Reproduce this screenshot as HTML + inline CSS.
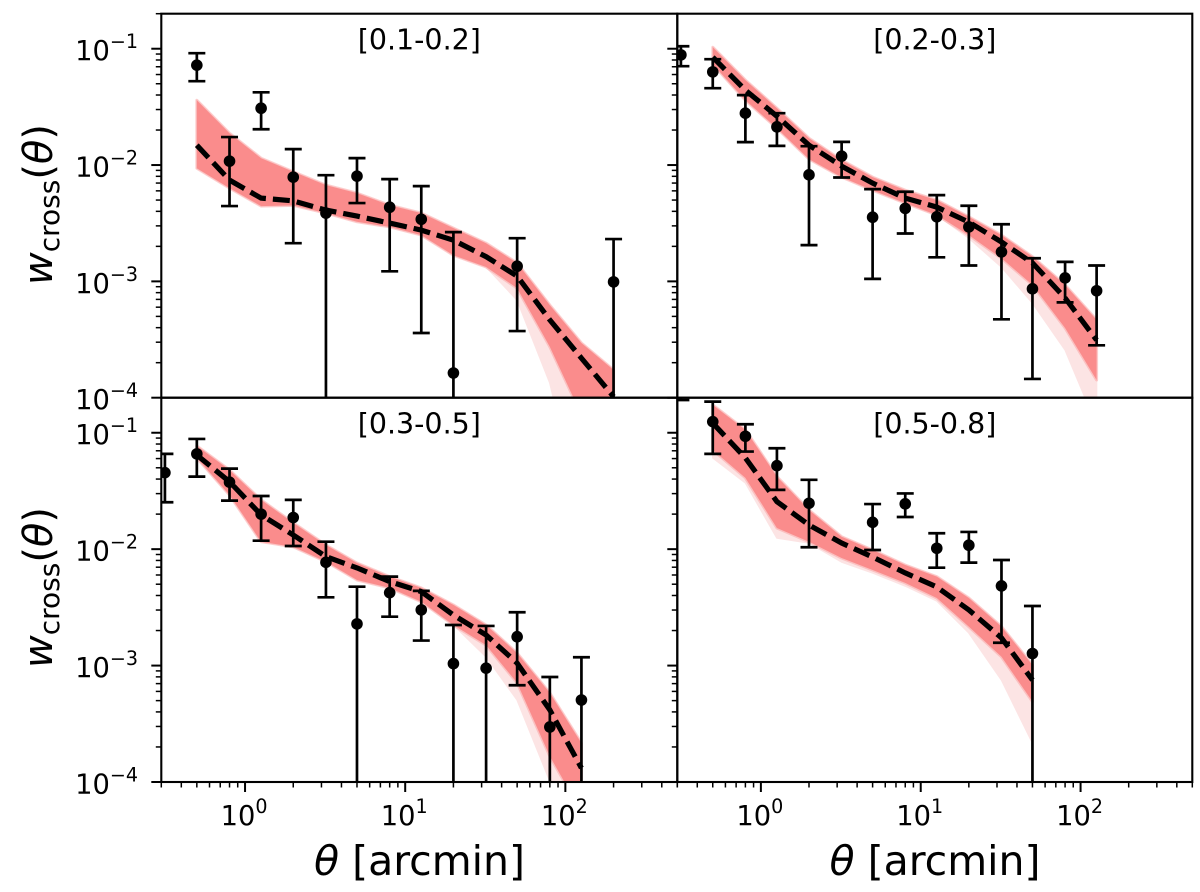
<!DOCTYPE html>
<html lang="en">
<head>
<meta charset="utf-8">
<title>Cross-correlation panels</title>
<style>
html,body{margin:0;padding:0;background:#fff;}
svg{display:block;}
text{font-family:"DejaVu Sans","Liberation Sans",sans-serif;fill:#000;}
</style>
</head>
<body>
<svg id="chart" xmlns="http://www.w3.org/2000/svg" width="1200" height="892" viewBox="0 0 1200 892">
  <rect x="0" y="0" width="1200" height="892" fill="#fff"/>
  <defs>
    <clipPath id="clip-0"><rect x="161.3" y="13.7" width="516" height="384"/></clipPath>
    <clipPath id="clip-1"><rect x="677.3" y="13.7" width="515" height="384"/></clipPath>
    <clipPath id="clip-2"><rect x="161.3" y="397.7" width="516" height="384.3"/></clipPath>
    <clipPath id="clip-3"><rect x="677.3" y="397.7" width="515" height="384.3"/></clipPath>
  </defs>
  <g id="plots"></g>
  <text transform="translate(52,285) rotate(-90)" font-size="40"><tspan font-style="italic">w</tspan><tspan font-size="28" dy="7">cross</tspan><tspan dy="-7">(</tspan><tspan font-style="italic">θ</tspan><tspan>)</tspan></text>
  <text transform="translate(52,668) rotate(-90)" font-size="40"><tspan font-style="italic">w</tspan><tspan font-size="28" dy="7">cross</tspan><tspan dy="-7">(</tspan><tspan font-style="italic">θ</tspan><tspan>)</tspan></text>
  <text x="419.5" y="875" font-size="41" text-anchor="middle"><tspan font-style="italic">θ</tspan> [arcmin]</text>
  <text x="935" y="875" font-size="41" text-anchor="middle"><tspan font-style="italic">θ</tspan> [arcmin]</text>
</svg>
<script>
// ---- shared axis data ----
const xLimits = [0.3, 500];
const yLimits = [1e-4, 0.2];
const xTickExponents = [0, 1, 2];
const yTickExponents = [-4, -3, -2, -1];
const minorMultipliers = [2, 3, 4, 5, 6, 7, 8, 9];
const panelLabels = ['[0.1-0.2]', '[0.2-0.3]', '[0.3-0.5]', '[0.5-0.8]'];

// ---- model grid ----
const modelTheta = [0.5, 0.8, 1.26, 2, 3.2, 5, 8, 12.6, 20, 32, 50, 80, 126, 200];

// ---- panel 1 [0.1-0.2] ----
const p1Theta = [0.5, 0.8, 1.26, 2, 3.2, 5, 8, 12.6, 20, 50, 200];
const p1Value = [0.0722, 0.0108, 0.0308, 0.00787, 0.00386, 0.00803, 0.00434, 0.00342, 0.000163, 0.00135, 0.00099];
const p1Upper = [0.0915, 0.0174, 0.0422, 0.0137, 0.00818, 0.01146, 0.00757, 0.00659, 0.00265, 0.00235, 0.00231];
const p1Lower = [0.0526, 0.00444, 0.0203, 0.00213, null, 0.00471, 0.00122, 0.00036, null, 0.000374, null];
const p1Model = [0.01482, 0.00742, 0.0052, 0.00492, 0.0041, 0.00364, 0.00317, 0.00276, 0.00226, 0.00163, 0.00111, 0.000466, 0.000219, 0.000102];
const p1BandHigh = [0.0361, 0.0188, 0.01146, 0.00874, 0.00672, 0.00574, 0.00452, 0.00386, 0.00287, 0.00213, 0.00144, 0.000625, 0.000295, 0.000173];
const p1BandLow = [0.0094, 0.00634, 0.00444, 0.0045, 0.00386, 0.00325, 0.00294, 0.0025, 0.00168, 0.00133, 0.000875, 0.000274, 0.0000713, 0.00001];
const p1FaintLow = [0.0094, 0.00634, 0.00444, 0.0045, 0.00386, 0.00325, 0.00294, 0.0025, 0.00168, 0.00133, 0.00069, 0.000134, 0.00001, 0.00001];

// ---- panel 2 [0.2-0.3] ----
const p2Theta = [0.316, 0.5, 0.8, 1.26, 2, 3.2, 5, 8, 12.6, 20, 32, 50, 80, 126];
const p2Value = [0.0885, 0.0632, 0.0279, 0.0213, 0.00824, 0.01193, 0.00356, 0.00424, 0.00359, 0.00294, 0.00179, 0.000863, 0.00107, 0.00083];
const p2Upper = [0.105, 0.0813, 0.0399, 0.0279, 0.01452, 0.01581, 0.00621, 0.00589, 0.00551, 0.00447, 0.0031, 0.00158, 0.00147, 0.00137];
const p2Lower = [0.0708, 0.0458, 0.01574, 0.01462, 0.00205, 0.00782, 0.00105, 0.00258, 0.00161, 0.00137, 0.000472, 0.000145, 0.00066, 0.000282];
const p2Model = [0.0845, 0.044, 0.0263, 0.01482, 0.00979, 0.007, 0.0052, 0.00435, 0.00323, 0.00218, 0.00144, 0.00072, 0.000313];
const p2BandHigh = [0.103, 0.0537, 0.0308, 0.017, 0.01102, 0.00787, 0.00608, 0.005, 0.00359, 0.0025, 0.00163, 0.00093, 0.000466];
const p2BandLow = [0.0736, 0.0361, 0.02075, 0.01125, 0.00787, 0.00608, 0.00471, 0.00372, 0.0025, 0.00158, 0.00093, 0.000397, 0.000142];
const p2FaintLow = [0.0736, 0.0361, 0.02075, 0.01125, 0.00787, 0.00608, 0.00471, 0.00372, 0.00235, 0.00133, 0.00065, 0.000257, 0.0000582];

// ---- panel 3 [0.3-0.5] ----
const p3Theta = [0.316, 0.5, 0.8, 1.26, 2, 3.2, 5, 8, 12.6, 20, 32, 50, 80, 126];
const p3Value = [0.0454, 0.0658, 0.0376, 0.02, 0.0187, 0.00771, 0.00228, 0.00423, 0.00301, 0.00104, 0.00095, 0.00177, 0.000297, 0.000506];
const p3Upper = [0.0658, 0.0885, 0.0492, 0.0286, 0.0265, 0.01159, 0.00476, 0.00581, 0.00438, 0.00223, 0.00219, 0.00287, 0.000798, 0.00118];
const p3Lower = [0.0253, 0.042, 0.0261, 0.01183, 0.01064, 0.00386, null, 0.00263, 0.00164, null, null, 0.000678, null, null];
const p3Model = [0.0644, 0.038, 0.0197, 0.01324, 0.00863, 0.0069, 0.00526, 0.00432, 0.00272, 0.00183, 0.00105, 0.000416, 0.000132];
const p3BandHigh = [0.0771, 0.0479, 0.0265, 0.0168, 0.01086, 0.0076, 0.00581, 0.00465, 0.00332, 0.00223, 0.00128, 0.000582, 0.000216];
const p3BandLow = [0.0608, 0.0292, 0.01159, 0.01045, 0.00782, 0.00543, 0.00465, 0.00354, 0.00223, 0.0015, 0.00071, 0.000167, 0.0000553];
const p3FaintLow = [0.0608, 0.0292, 0.01159, 0.01045, 0.00782, 0.00543, 0.00465, 0.00354, 0.00223, 0.00119, 0.000506, 0.000102, 0.0000214];

// ---- panel 4 [0.5-0.8] ----
const p4Theta = [0.316, 0.5, 0.8, 1.26, 2, 5, 8, 12.6, 20, 32, 50];
const p4Value = [0.3, 0.1245, 0.0933, 0.0521, 0.0248, 0.017, 0.0245, 0.01018, 0.01081, 0.00483, 0.00127];
const p4Upper = [0.4, 0.185, 0.1183, 0.0736, 0.0394, 0.0244, 0.0301, 0.0137, 0.01406, 0.00807, 0.00325];
const p4Lower = [0.191, 0.0658, 0.0689, 0.0323, 0.01038, 0.00984, 0.0189, 0.00693, 0.00766, 0.00157, null];
const p4Model = [0.1208, 0.0608, 0.0256, 0.01614, 0.0113, 0.00857, 0.00625, 0.00473, 0.00301, 0.00173, 0.00075];
const p4BandHigh = [0.173, 0.1057, 0.042, 0.0217, 0.0128, 0.00984, 0.00731, 0.00581, 0.00381, 0.00216, 0.00101];
const p4BandLow = [0.0711, 0.0409, 0.0152, 0.01159, 0.0084, 0.00662, 0.00513, 0.00381, 0.00216, 0.00119, 0.00049];
const p4FaintLow = [0.0608, 0.0371, 0.01247, 0.0113, 0.00776, 0.00625, 0.00483, 0.00359, 0.00191, 0.00075, 0.000216];

const panels = [
  {theta: p1Theta, value: p1Value, upper: p1Upper, lower: p1Lower, model: p1Model, high: p1BandHigh, low: p1BandLow, faint: p1FaintLow, left: 161.3, right: 677.3, top: 13.7, bottom: 397.7, titleY: 49.5, showY: true, showX: false},
  {theta: p2Theta, value: p2Value, upper: p2Upper, lower: p2Lower, model: p2Model, high: p2BandHigh, low: p2BandLow, faint: p2FaintLow, left: 677.3, right: 1192.3, top: 13.7, bottom: 397.7, titleY: 49.5, showY: false, showX: false},
  {theta: p3Theta, value: p3Value, upper: p3Upper, lower: p3Lower, model: p3Model, high: p3BandHigh, low: p3BandLow, faint: p3FaintLow, left: 161.3, right: 677.3, top: 397.7, bottom: 782, titleY: 433.5, showY: true, showX: true},
  {theta: p4Theta, value: p4Value, upper: p4Upper, lower: p4Lower, model: p4Model, high: p4BandHigh, low: p4BandLow, faint: p4FaintLow, left: 677.3, right: 1192.3, top: 397.7, bottom: 782, titleY: 433.5, showY: false, showX: true}
];

const NS = 'http://www.w3.org/2000/svg';
const root = document.getElementById('plots');

function make(tag, attrs, parent) {
  const node = document.createElementNS(NS, tag);
  for (const k in attrs) node.setAttribute(k, attrs[k]);
  parent.appendChild(node);
  return node;
}

function xScale(p, v) {
  const a = Math.log10(xLimits[0]), b = Math.log10(xLimits[1]);
  return p.left + (Math.log10(v) - a) / (b - a) * (p.right - p.left);
}

function yScale(p, v) {
  const a = Math.log10(yLimits[0]), b = Math.log10(yLimits[1]);
  return p.bottom - (Math.log10(v) - a) / (b - a) * (p.bottom - p.top);
}

function powerLabel(parent, x, y, exp, anchor) {
  const t = make('text', {x: x, y: y, 'font-size': 27.3, 'text-anchor': anchor}, parent);
  
  
  const base = make('tspan', {}, t);
  base.textContent = '10';
  const sup = make('tspan', {'font-size': 19.1, dy: -12}, t);
  sup.textContent = String(exp).replace('-', '\u2212');
}

panels.forEach(function (p, idx) {
  const g = make('g', {}, root);
  
  

  const plot = make('g', {'clip-path': 'url(#clip-' + idx + ')'}, g);
  
  

  const n = p.model.length;
  const grid = modelTheta.slice(0, n);
  const polygon = function (upper, lower) {
    const pts = [];
    for (let i = 0; i < n; i++) pts.push(xScale(p, grid[i]).toFixed(1) + ',' + yScale(p, upper[i]).toFixed(1));
    for (let i = n - 1; i >= 0; i--) pts.push(xScale(p, grid[i]).toFixed(1) + ',' + yScale(p, lower[i]).toFixed(1));
    return pts.join(' ');
  };

  const faint = make('polygon', {points: polygon(p.high, p.faint), fill: '#fce4e4', stroke: '#fce4e4', 'stroke-width': 1.5, 'stroke-linejoin': 'round'}, plot);
  
  

  const band = make('polygon', {points: polygon(p.high, p.low), fill: '#fa8c8c', stroke: 'rgba(250,140,140,0.4)', 'stroke-width': 3, 'stroke-linejoin': 'round'}, plot);
  
  

  const linePts = [];
  for (let i = 0; i < n; i++) linePts.push(xScale(p, grid[i]).toFixed(1) + ',' + yScale(p, p.model[i]).toFixed(1));
  const line = make('polyline', {points: linePts.join(' '), fill: 'none', stroke: '#000', 'stroke-width': 5.2, 'stroke-dasharray': '17 7'}, plot);
  
  

  p.theta.forEach(function (th, i) {
    const x = xScale(p, th);
    const yTop = yScale(p, p.upper[i]);
    const hasLow = p.lower[i] !== null;
    const yLow = hasLow ? yScale(p, p.lower[i]) : p.bottom + 5;

    const stem = make('line', {x1: x, x2: x, y1: yTop, y2: yLow, stroke: '#000', 'stroke-width': 2.7}, plot);
    
    

    const capTop = make('line', {x1: x - 8.5, x2: x + 8.5, y1: yTop, y2: yTop, stroke: '#000', 'stroke-width': 2.7}, plot);
    
    

    if (hasLow) {
      const capLow = make('line', {x1: x - 8.5, x2: x + 8.5, y1: yLow, y2: yLow, stroke: '#000', 'stroke-width': 2.7}, plot);
      
      
    }

    const dot = make('circle', {cx: x, cy: yScale(p, p.value[i]), r: 5.8, fill: '#000'}, plot);
    
    
  });

  const frame = make('rect', {x: p.left, y: p.top, width: p.right - p.left, height: p.bottom - p.top, fill: 'none', stroke: '#000', 'stroke-width': 2.1}, g);
  
  

  // y ticks
  for (let e = -4; e <= -1; e++) {
    const major = make('line', {x1: p.left - 10, x2: p.left, y1: yScale(p, Math.pow(10, e)), y2: yScale(p, Math.pow(10, e)), stroke: '#000', 'stroke-width': 2}, g);
    
    
    minorMultipliers.forEach(function (m) {
      const v = m * Math.pow(10, e);
      if (v > yLimits[1] * 1.001) return;
      const minor = make('line', {x1: p.left - 5.5, x2: p.left, y1: yScale(p, v), y2: yScale(p, v), stroke: '#000', 'stroke-width': 1.5}, g);
      
      
    });
  }
  if (p.showY) {
    yTickExponents.forEach(function (e) {
      powerLabel(g, 138, yScale(p, Math.pow(10, e)) + 11.5, e, 'end');
    });
  }

  // x ticks
  if (p.showX) {
    for (let e = -1; e <= 2; e++) {
      if (e >= 0) {
        const major = make('line', {x1: xScale(p, Math.pow(10, e)), x2: xScale(p, Math.pow(10, e)), y1: p.bottom, y2: p.bottom + 10, stroke: '#000', 'stroke-width': 2}, g);
        
        
      }
      minorMultipliers.forEach(function (m) {
        const v = m * Math.pow(10, e);
        if (v < xLimits[0] * 0.999 || v > xLimits[1] * 1.001) return;
        const minor = make('line', {x1: xScale(p, v), x2: xScale(p, v), y1: p.bottom, y2: p.bottom + 5.5, stroke: '#000', 'stroke-width': 1.5}, g);
        
        
      });
    }
    xTickExponents.forEach(function (e) {
      powerLabel(g, xScale(p, Math.pow(10, e)) - 1, 825, e, 'middle');
    });
  }

  const title = make('text', {x: (p.left + p.right) / 2, y: p.titleY, 'font-size': 28.5, 'text-anchor': 'middle'}, g);
  
  
  title.textContent = panelLabels[idx];
});
</script>
</body>
</html>
